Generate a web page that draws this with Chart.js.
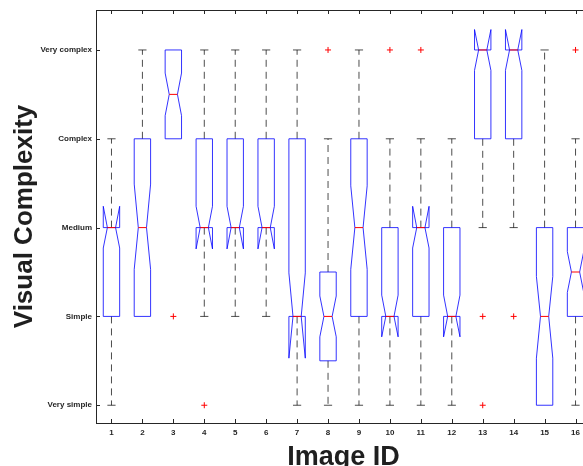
<!DOCTYPE html>
<html>
<head>
<meta charset="utf-8">
<style>
    html, body { margin: 0; padding: 0; overflow: hidden; background: #fff; }
    #wrap { width: 583px; height: 466px; overflow: hidden; }
</style>
<script src="https://cdn.jsdelivr.net/npm/chart.js@4.4.1/dist/chart.umd.min.js"></script>
</head>
<body>
<div id="wrap"><canvas id="graficoComplexidade" width="600" height="466"></canvas></div>
<script>
var imageIds = ['1', '2', '3', '4', '5', '6', '7', '8', '9', '10', '11', '12', '13', '14', '15', '16'];
var complexityLabels = ['Very simple', 'Simple', 'Medium', 'Complex', 'Very complex'];

// 1 = Very simple ... 5 = Very complex
var q1 =          [2, 2, 4,   3, 3, 3, 2, 1.5, 2, 2, 2, 2, 4, 4, 1, 2];
var medians =     [3, 3, 4.5, 3, 3, 3, 2, 2,   3, 2, 3, 2, 5, 5, 2, 2.5];
var q3 =          [3, 4, 5,   4, 4, 4, 4, 2.5, 4, 3, 3, 3, 5, 5, 3, 3];
var whiskerLow =  [1, 2, 4,   2, 2, 2, 1, 1,   1, 1, 1, 1, 3, 3, 1, 1];
var whiskerHigh = [4, 5, 5,   5, 5, 5, 5, 4,   5, 4, 4, 4, 5, 5, 5, 4];
var notchLow =    [2.77, 2.53, 4.26, 2.76, 2.76, 2.76, 1.53, 1.77, 2.53, 1.77, 2.77, 1.77, 4.77, 4.77, 1.53, 2.27];
var notchHigh =   [3.24, 3.49, 4.74, 3.24, 3.24, 3.24, 2.49, 2.23, 3.47, 2.24, 3.24, 2.24, 5.23, 5.23, 2.45, 2.73];

var outlierIds =    ['3', '4', '8', '10', '11', '13', '13', '14', '16'];
var outlierValues = [2,   1,   5,   5,    5,    2,    1,    2,    5];

var Grafico = Grafico || {};

Grafico.BoxNotch = (function() {

    var axisColor = '#262626';

    function desenharCaixas(chart) {
        var ctx = chart.ctx;
        var x = chart.scales.x;
        var y = chart.scales.y;
        var area = chart.chartArea;
        var band = x.getPixelForValue(1) - x.getPixelForValue(0);
        var w = band * 0.265;

        ctx.save();

        // box outline + inward ticks
        ctx.strokeStyle = axisColor;
        ctx.lineWidth = 1;
        ctx.beginPath();
        ctx.moveTo(area.left, area.top + 0.5);
        ctx.lineTo(area.right, area.top + 0.5);
        ctx.lineTo(area.right, area.bottom);
        imageIds.forEach(function(id, i) {
            var px = Math.round(x.getPixelForValue(i)) + 0.5;
            ctx.moveTo(px, area.bottom);
            ctx.lineTo(px, area.bottom - 4);
            ctx.moveTo(px, area.top);
            ctx.lineTo(px, area.top + 4);
        });
        complexityLabels.forEach(function(lbl, i) {
            var py = Math.round(y.getPixelForValue(i + 1)) + 0.5;
            ctx.moveTo(area.left, py);
            ctx.lineTo(area.left + 4, py);
        });
        ctx.stroke();

        imageIds.forEach(function(id, i) {
            var cx = x.getPixelForValue(i);

            // whiskers
            ctx.strokeStyle = 'rgba(0,0,0,0.7)';
            ctx.lineWidth = 1;
            ctx.setLineDash([7, 5]);
            ctx.beginPath();
            if (whiskerHigh[i] > q3[i]) {
                ctx.moveTo(cx, y.getPixelForValue(q3[i]));
                ctx.lineTo(cx, y.getPixelForValue(whiskerHigh[i]));
            }
            if (whiskerLow[i] < q1[i]) {
                ctx.moveTo(cx, y.getPixelForValue(q1[i]));
                ctx.lineTo(cx, y.getPixelForValue(whiskerLow[i]));
            }
            ctx.stroke();
            ctx.setLineDash([]);
            ctx.beginPath();
            if (whiskerHigh[i] > q3[i]) {
                ctx.moveTo(cx - w / 2, y.getPixelForValue(whiskerHigh[i]));
                ctx.lineTo(cx + w / 2, y.getPixelForValue(whiskerHigh[i]));
            }
            if (whiskerLow[i] < q1[i]) {
                ctx.moveTo(cx - w / 2, y.getPixelForValue(whiskerLow[i]));
                ctx.lineTo(cx + w / 2, y.getPixelForValue(whiskerLow[i]));
            }
            ctx.stroke();

            // notched box
            ctx.strokeStyle = 'rgba(0,0,255,0.8)';
            ctx.beginPath();
            ctx.moveTo(cx - w, y.getPixelForValue(q1[i]));
            ctx.lineTo(cx - w, y.getPixelForValue(notchLow[i]));
            ctx.lineTo(cx - w / 2, y.getPixelForValue(medians[i]));
            ctx.lineTo(cx - w, y.getPixelForValue(notchHigh[i]));
            ctx.lineTo(cx - w, y.getPixelForValue(q3[i]));
            ctx.lineTo(cx + w, y.getPixelForValue(q3[i]));
            ctx.lineTo(cx + w, y.getPixelForValue(notchHigh[i]));
            ctx.lineTo(cx + w / 2, y.getPixelForValue(medians[i]));
            ctx.lineTo(cx + w, y.getPixelForValue(notchLow[i]));
            ctx.lineTo(cx + w, y.getPixelForValue(q1[i]));
            ctx.closePath();
            ctx.stroke();

            // median
            ctx.strokeStyle = '#ff0000';
            ctx.beginPath();
            ctx.moveTo(cx - w / 2, y.getPixelForValue(medians[i]));
            ctx.lineTo(cx + w / 2, y.getPixelForValue(medians[i]));
            ctx.stroke();
        });

        ctx.restore();
    }

    function BoxNotch() {
        this.ctx = document.getElementById('graficoComplexidade').getContext('2d');
    }

    BoxNotch.prototype.iniciar = function() {
        var outliers = outlierIds.map(function(id, i) {
            return { x: id, y: outlierValues[i] };
        });

        new Chart(this.ctx, {
            type: 'line',
            data: {
                labels: imageIds,
                datasets: [{
                    label: 'Outliers',
                    data: outliers,
                    showLine: false,
                    pointStyle: 'cross',
                    pointRadius: 3,
                    pointBorderWidth: 1,
                    borderColor: '#ff0000',
                    backgroundColor: '#ff0000',
                }],
            },
            options: {
                responsive: false,
                animation: false,
                layout: { padding: { top: 10, right: 9, left: 0, bottom: 0 } },
                plugins: {
                    legend: { display: false },
                    tooltip: { enabled: false },
                },
                scales: {
                    x: {
                        type: 'category',
                        offset: true,
                        grid: { display: false, drawTicks: false },
                        border: { color: axisColor, width: 1 },
                        ticks: {
                            color: axisColor,
                            padding: 5,
                            maxRotation: 0,
                            font: { family: 'Liberation Sans', size: 8, weight: 'bold' },
                        },
                        title: {
                            display: true,
                            text: 'Image ID',
                            color: '#1f1f1f',
                            padding: 0,
                            font: { family: 'Liberation Sans', size: 27, weight: 'bold', lineHeight: 0.66 },
                        },
                        afterFit: function(scale) { scale.height = 43; },
                    },
                    y: {
                        type: 'linear',
                        min: 0.8,
                        max: 5.45,
                        grid: { display: false, drawTicks: false },
                        border: { color: axisColor, width: 1 },
                        afterBuildTicks: function(scale) {
                            scale.ticks = complexityLabels.map(function(lbl, i) {
                                return { value: i + 1 };
                            });
                        },
                        ticks: {
                            color: axisColor,
                            padding: 4,
                            font: { family: 'Liberation Sans', size: 8, weight: 'bold' },
                            callback: function(value) {
                                return complexityLabels[value - 1];
                            },
                        },
                        title: {
                            display: true,
                            text: 'Visual Complexity',
                            color: '#1f1f1f',
                            padding: { top: 12, bottom: 0 },
                            font: { family: 'Liberation Sans', size: 26, weight: 'bold', lineHeight: 1 },
                        },
                        afterFit: function(scale) { scale.width = 96; },
                    },
                },
            },
            plugins: [{ id: 'caixasNotch', beforeDatasetsDraw: desenharCaixas }],
        });
    };

    return BoxNotch;
}());

var boxNotch = new Grafico.BoxNotch();
boxNotch.iniciar();
</script>
</body>
</html>
